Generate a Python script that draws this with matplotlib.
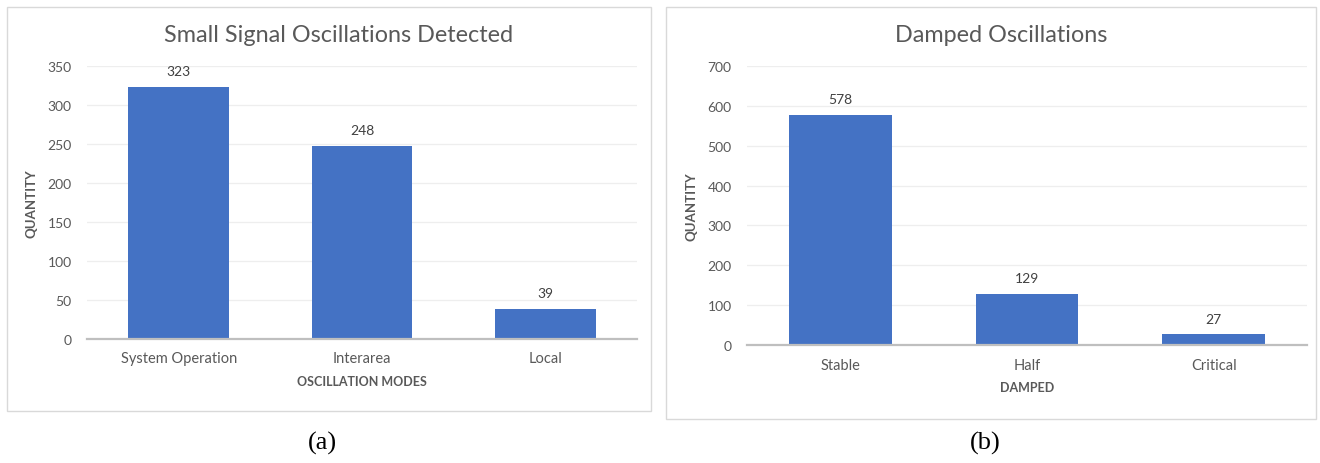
import matplotlib
matplotlib.use("Agg")
import matplotlib.pyplot as plt
from matplotlib.patches import Rectangle

plt.rcParams['font.family'] = ['Lato', 'DejaVu Sans']

W, H = 1320, 464
DPI = 100

modes = ["System Operation", "Interarea", "Local"]
mode_counts = [323, 248, 39]
damp = ["Stable", "Half", "Critical"]
damp_counts = [578, 129, 27]

titles = ["Small Signal Oscillations Detected", "Damped Oscillations"]
xlabels = ["OSCILLATION MODES", "DAMPED"]
ylabel = "QUANTITY"
captions = ["(a)", "(b)"]

BAR = "#4472C4"
GREY = "#595959"

fig = plt.figure(figsize=(W / DPI, H / DPI), dpi=DPI)


def px_axes(l, t, r, b):
    return fig.add_axes([l / W, 1 - b / H, (r - l) / W, (b - t) / H])


def box(l, t, r, b):
    fig.add_artist(Rectangle((l / W, 1 - b / H), (r - l) / W, (b - t) / H,
                             transform=fig.transFigure, fill=False,
                             edgecolor="#D9D9D9", linewidth=1.0))


panels = [
    dict(cats=modes, vals=mode_counts, ymax=350, step=50,
         ax=(87, 67, 637, 340), box=(7, 8, 651, 412), title_y=35,
         cap_x=322),
    dict(cats=damp, vals=damp_counts, ymax=700, step=100,
         ax=(747, 67, 1307, 346), box=(666, 8, 1316, 420), title_y=35,
         cap_x=985),
]

for i, p in enumerate(panels):
    box(*p["box"])
    ax = px_axes(*p["ax"])
    x = range(len(p["cats"]))
    ax.bar(x, p["vals"], width=0.55, color=BAR, zorder=3)
    ax.set_xlim(-0.5, len(p["cats"]) - 0.5)
    ax.set_ylim(0, p["ymax"])
    ax.set_yticks(range(0, p["ymax"] + 1, p["step"]))
    ax.set_xticks(list(x))
    ax.set_xticklabels(p["cats"], fontsize=10.5, color=GREY)
    ax.tick_params(axis="y", labelsize=10, labelcolor=GREY, length=0, pad=11)
    ax.tick_params(axis="x", length=0, pad=9)
    ax.grid(axis="y", color="#EEEEEE", linewidth=0.9, zorder=0)
    for s in ["top", "right", "left"]:
        ax.spines[s].set_visible(False)
    ax.spines["bottom"].set_color("#BFBFBF")
    ax.spines["bottom"].set_linewidth(1.6)
    ax.spines["bottom"].set_zorder(4)
    for xi, v in zip(x, p["vals"]):
        ax.annotate(str(v), (xi, v), xytext=(0, 7), textcoords="offset points",
                    ha="center", va="bottom", fontsize=10, color="#404040")
    ax.set_xlabel(xlabels[i], fontsize=9, fontweight="bold",
                  color=GREY, labelpad=7)
    ax.set_ylabel(ylabel, fontsize=9.5, fontweight="bold", color=GREY,
                  labelpad=7)
    l, t, r, b = p["box"]
    fig.text(((l + r) / 2 + 10) / W, 1 - p["title_y"] / H, titles[i],
             ha="center", va="center", fontsize=16.8, color=GREY)
    fig.text(p["cap_x"] / W, 1 - 443 / H, captions[i], ha="center",
             va="center", fontsize=19, family="Liberation Serif", color="black")

fig.savefig("out.png", dpi=DPI, facecolor="white")
